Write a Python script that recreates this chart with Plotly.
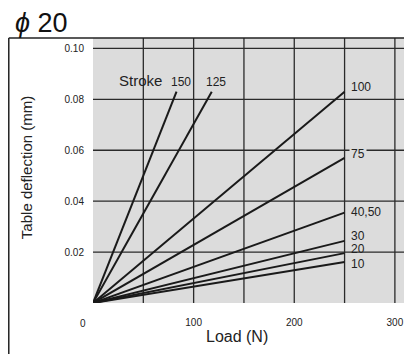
import plotly.graph_objects as go

# courbes de deflexion (charge N, deflexion mm) par course
strokes = ["150", "125", "100", "75", "40,50", "30", "20", "10"]
load_end = [83, 118, 250, 250, 250, 250, 250, 250]
defl_end = [0.083, 0.083, 0.083, 0.057, 0.0355, 0.0244, 0.0196, 0.0161]

x_ticks = [100, 200, 300]
y_ticks = [0.02, 0.04, 0.06, 0.08, 0.10]
y_tick_text = ["0.02", "0.04", "0.06", "0.08", "0.10"]

FONT = "Arial, Liberation Sans, sans-serif"
GRID = "#2a2a2a"

fig = go.Figure()

for s, lx, ly in zip(strokes, load_end, defl_end):
    fig.add_trace(go.Scatter(
        x=[0, lx], y=[0, ly],
        mode="lines",
        line=dict(color="#1a1a1a", width=2),
        name=s,
        showlegend=False,
        cliponaxis=False,
    ))

# etiquettes des courbes
for s, lx, ly in zip(strokes, load_end, defl_end):
    if lx == 250:
        fig.add_annotation(
            x=lx, y=ly, text=s, showarrow=False,
            xanchor="left", yanchor="middle", xshift=4,
            yshift={"100": 5, "75": 4, "40,50": 1, "30": 5, "20": 4, "10": -2}[s],
            font=dict(family=FONT, size=12, color="#222"),
            bgcolor="#dcdcdc" if s == "75" else None,
        )
    else:
        fig.add_annotation(
            x=lx, y=ly, text=s, showarrow=False,
            xanchor="center", yanchor="bottom", xshift=4, yshift=1,
            font=dict(family=FONT, size=12, color="#222"),
        )

fig.add_annotation(x=0.075, y=0.0873, xref="paper", yref="y", text="Stroke",
                   showarrow=False, xanchor="left", yanchor="middle",
                   font=dict(family=FONT, size=15, color="#222"))

# "0" du coin
fig.add_annotation(x=0, y=0, text="0", showarrow=False, xshift=-10, yshift=-20,
                   font=dict(family=FONT, size=10, color="#222"))

# titres des axes
fig.add_annotation(x=0.451, y=-0.128, xref="paper", yref="paper", text="Load (N)",
                   showarrow=False, xanchor="center", yanchor="middle",
                   font=dict(family=FONT, size=16, color="#222"))
fig.add_annotation(x=-0.21, y=0.509, xref="paper", yref="paper",
                   text="Table deflection (mm)", textangle=-90,
                   xanchor="center", yanchor="middle",
                   showarrow=False, font=dict(family=FONT, size=15, color="#222"))

fig.add_annotation(x=-0.252, y=1.0, xref="paper", yref="paper", text="<i>ϕ</i> 20",
                   showarrow=False, xanchor="left", yanchor="bottom", yshift=-2,
                   font=dict(family=FONT, size=27, color="#111"))

# cadre exterieur
fig.add_shape(type="line", xref="paper", yref="paper", x0=-0.264, x1=1.0, y0=1, y1=1,
              line=dict(color="#222", width=1.5))
fig.add_shape(type="line", xref="paper", yref="paper", x0=-0.264, x1=-0.264, y0=1, y1=-0.2,
              line=dict(color="#222", width=1.5))

# la page ajoute 8 px de marge: figure reduite d'autant
fig.update_layout(
    width=404, height=346,
    margin=dict(l=85, r=0, t=30, b=51),
    paper_bgcolor="white",
    plot_bgcolor="#dcdcdc",
    xaxis=dict(
        range=[0, 317], tickvals=x_ticks, showgrid=False, zeroline=False,
        showline=False, ticks="", ticklabelstandoff=12,
        tickfont=dict(family=FONT, size=10, color="#222"),
    ),
    yaxis=dict(
        range=[0, 0.1041], tickvals=y_ticks, ticktext=y_tick_text,
        showgrid=False, zeroline=False, showline=False, ticks="",
        ticklabelstandoff=8,
        tickfont=dict(family=FONT, size=10, color="#222"),
    ),
)

# quadrillage
for gx in [50, 100, 150, 200, 250, 300]:
    fig.add_shape(type="line", xref="x", yref="paper", x0=gx, x1=gx, y0=0, y1=1,
                  line=dict(color=GRID, width=1.3), layer="below")
for gy in y_ticks:
    fig.add_shape(type="line", xref="paper", yref="y", x0=0, x1=1, y0=gy, y1=gy,
                  line=dict(color=GRID, width=1.3), layer="below")

fig.write_html("out.html")
